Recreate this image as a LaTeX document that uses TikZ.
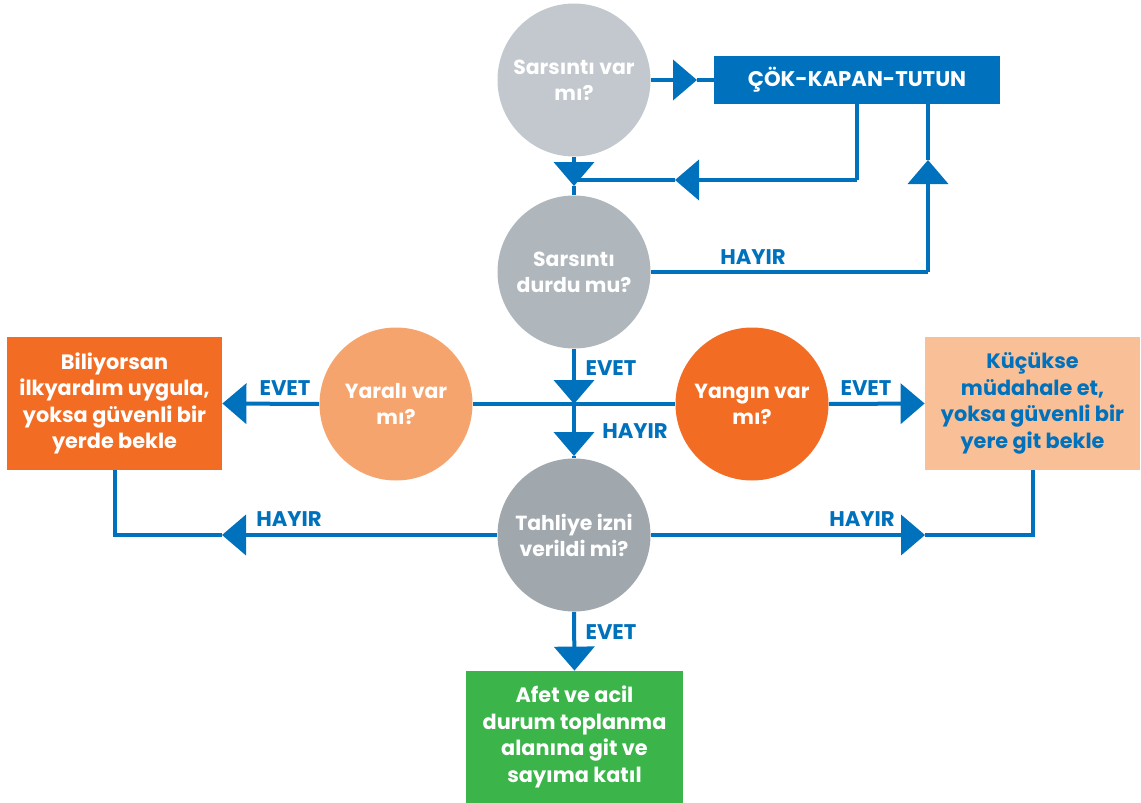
\documentclass[tikz,border=0pt]{standalone}
\usepackage{fontspec}
\setmainfont{Poppins}
\usetikzlibrary{arrows.meta}
\definecolor{myblue}{HTML}{0071BC}
\definecolor{gA}{HTML}{C2C8CD}
\definecolor{gB}{HTML}{AFB6BC}
\definecolor{gC}{HTML}{A0A8AE}
\definecolor{orA}{HTML}{F6A46E}
\definecolor{orB}{HTML}{F26C23}
\definecolor{peach}{HTML}{F9BF96}
\definecolor{grn}{HTML}{3BB54A}
\tikzset{
  circ/.style={circle, inner sep=0pt, minimum size=76.5pt, text=white, align=center, font=\bfseries\fontsize{10.2}{13}\selectfont},
  boxs/.style={rectangle, inner sep=0pt, align=center, font=\bfseries\fontsize{10.4}{13.3}\selectfont},
  lbl/.style={text=myblue, inner sep=0pt, font=\bfseries\fontsize{10.6}{12}\selectfont},
  conn/.style={myblue, line width=2pt},
  arr/.style={conn, -{Triangle[length=12pt,width=20pt]}}
}
\begin{document}
\begin{tikzpicture}[x=0.5pt,y=-0.5pt]
\useasboundingbox (0,0) rectangle (1141,803);
% nodes
\node[circ, fill=gA] (c1) at (574,80) {Sarsıntı var\\mı?};
\node[circ, fill=gB] (c2) at (574,272) {Sarsıntı\\durdu mu?};
\node[circ, fill=orA] (c3) at (396,404) {Yaralı var\\mı?};
\node[circ, fill=orB] (c4) at (752,404) {Yangın var\\mı?};
\node[circ, fill=gC] (c5) at (574,535) {Tahliye izni\\verildi mi?};
\node[boxs, fill=myblue, text=white, minimum width=143pt, minimum height=24pt, font=\bfseries\fontsize{10.6}{12}\selectfont] (kap) at (857,80) {ÇÖK-KAPAN-TUTUN};
\node[boxs, fill=orB, text=white, minimum width=107.5pt, minimum height=66.5pt] (lbox) at (114.5,403.5) {Biliyorsan\\ilkyardım uygula,\\yoksa güvenli bir\\yerde bekle};
\node[boxs, fill=peach, text=myblue, minimum width=107.5pt, minimum height=66.5pt] (rbox) at (1032.5,403.5) {Küçükse\\müdahale et,\\yoksa güvenli bir\\yere git bekle};
\node[boxs, fill=grn, text=white, minimum width=108.5pt, minimum height=66pt] (gbox) at (574.5,737) {Afet ve acil\\durum toplanma\\alanına git ve\\sayıma katıl};
% coordinates
\coordinate (t1) at (697,80);
\coordinate (j1) at (857,180);
\coordinate (t2) at (675,180);
\coordinate (m1) at (574,180);
\coordinate (t3) at (574,186);
\coordinate (r1) at (928,272);
\coordinate (t4) at (928,160);
\coordinate (t5) at (574,404);
\coordinate (t6) at (574,456);
\coordinate (l1) at (115,535);
\coordinate (t8) at (222,535);
\coordinate (t9) at (925,535);
\coordinate (r2) at (1033,535);
% connectors
\draw[arr] (c1.east) -- (t1);
\draw[conn] (t1) -- (kap.west);
\draw[conn] (kap.south) -- (j1);
\draw[arr] (j1) -- (t2);
\draw[conn] (t2) -- (m1);
\draw[arr] (c1.south) -- (t3);
\draw[conn] (t3) -- (c2.north);
\draw[conn] (c2.east) -- (r1);
\draw[arr] (r1) -- (t4);
\draw[conn] (t4) -- (kap.south -| t4);
\draw[arr] (c2.south) -- (t5);
\draw[arr] (t5) -- (t6);
\draw[conn] (t6) -- (c5.north);
\draw[conn] (c3.east) -- (c4.west);
\draw[arr] (c3.west) -- (lbox.east);
\draw[arr] (c4.east) -- (rbox.west);
\draw[arr] (c5.west) -- (t8);
\draw[conn] (t8) -- (l1) -- (lbox.south -| l1);
\draw[arr] (c5.east) -- (t9);
\draw[conn] (t9) -- (r2) -- (rbox.south -| r2);
\draw[arr] (c5.south) -- (gbox.north);
% labels
\node[lbl] (h1) at (753,257) {HAYIR};
\node[lbl] (e1) at (611,368) {EVET};
\node[lbl] (h2) at (635,431) {HAYIR};
\node[lbl] (e2) at (285,388) {EVET};
\node[lbl] (e3) at (866,388) {EVET};
\node[lbl] (h3) at (289,519) {HAYIR};
\node[lbl] (h4) at (862,519) {HAYIR};
\node[lbl] (e4) at (611,632) {EVET};
\end{tikzpicture}
\end{document}
